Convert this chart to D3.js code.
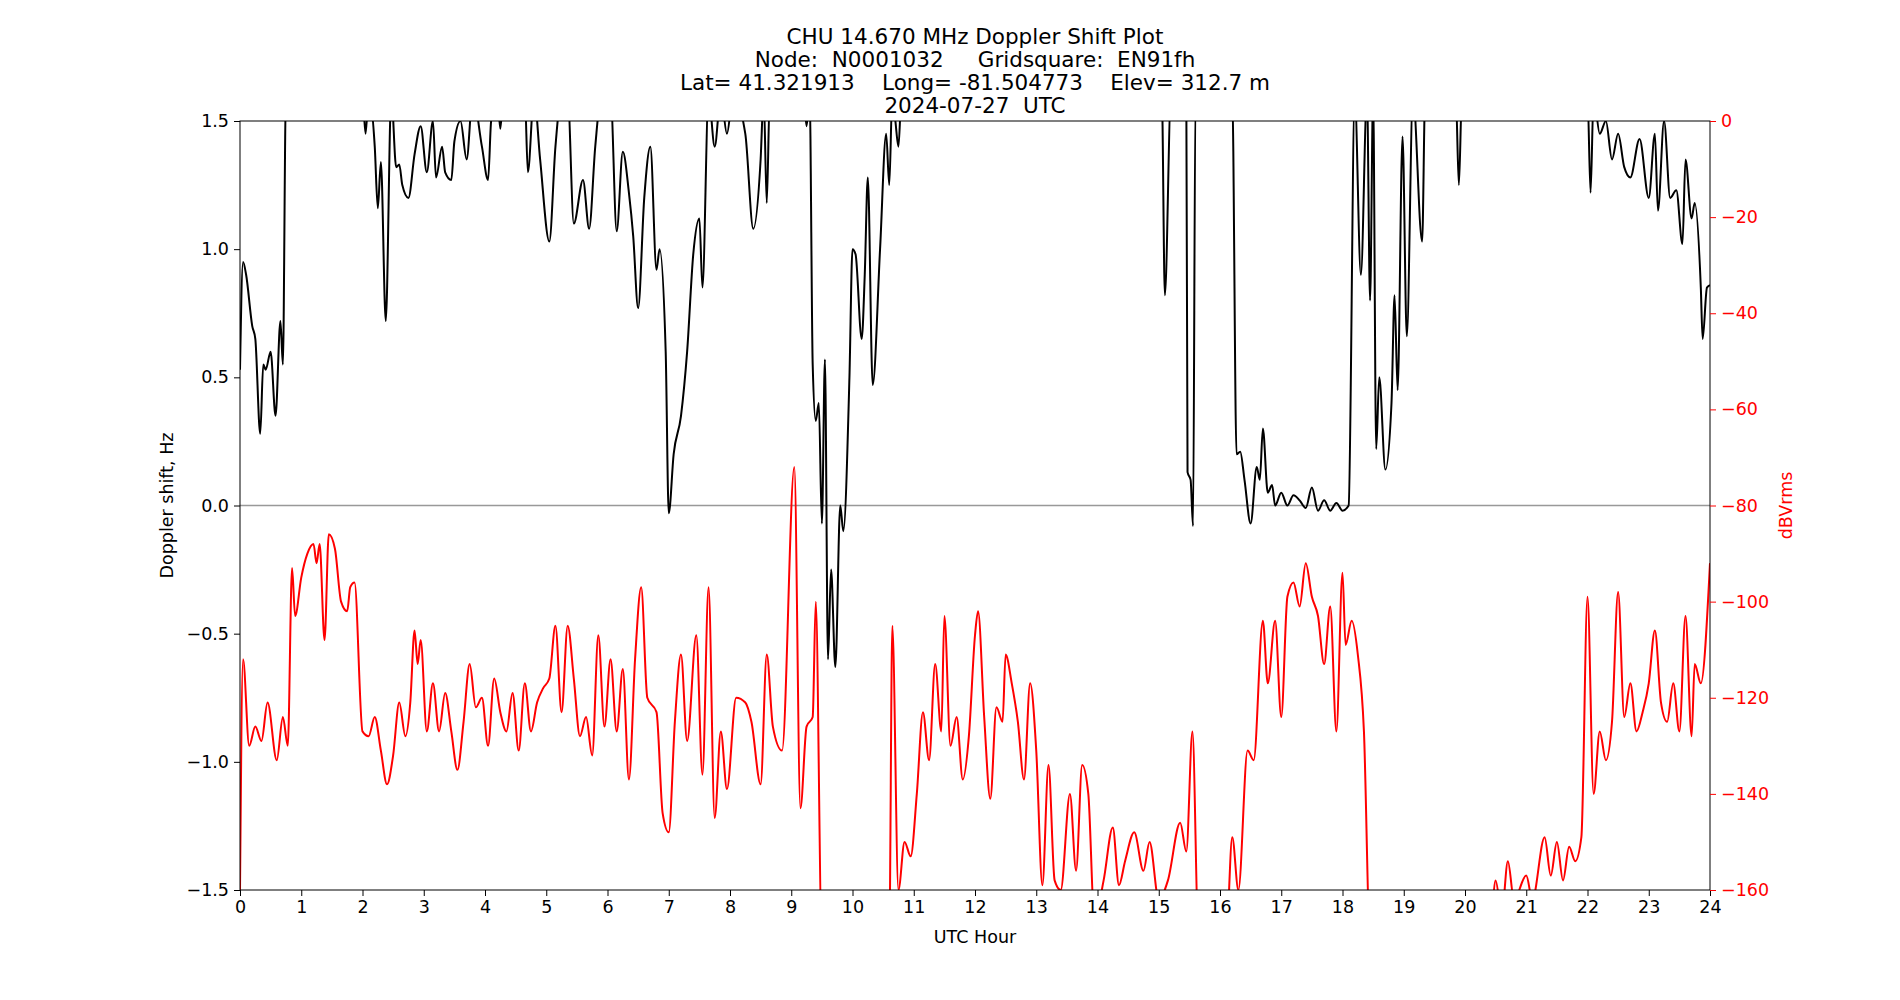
<!DOCTYPE html>
<html>
<head>
<meta charset="utf-8">
<script src="https://cdn.jsdelivr.net/npm/d3@7"></script>
<style>
  body { margin: 0; background: #fff; }
  text { font-family: "DejaVu Sans", sans-serif; white-space: pre; }
</style>
</head>
<body>
<div id="chart"></div>
<script>
const width = 1900,
  height = 1000;
const margin = { left: 240, right: 190, top: 121, bottom: 110 };

const titleLines = [
  "CHU 14.670 MHz Doppler Shift Plot",
  "Node:  N0001032     Gridsquare:  EN91fh",
  "Lat= 41.321913    Long= -81.504773    Elev= 312.7 m",
  "2024-07-27  UTC",
];

const xTicks = d3.range(0, 25);
const dopplerTicks = [-1.5, -1.0, -0.5, 0.0, 0.5, 1.0, 1.5];
const powerTicks = [-160, -140, -120, -100, -80, -60, -40, -20, 0];

// doppler shift [hour, Hz]
const doppler = [
  [0,0.53],[0.05,0.95],[0.1,0.9],[0.2,0.7],[0.25,0.65],[0.33,0.28],[0.38,0.55],[0.42,0.53],[0.5,0.6],
  [0.58,0.35],[0.66,0.72],[0.7,0.55],[0.75,1.6],[2.0,1.6],[2.05,1.45],[2.1,1.6],[2.2,1.4],[2.25,1.16],
  [2.3,1.34],[2.38,0.72],[2.47,1.6],[2.55,1.32],[2.6,1.33],[2.65,1.25],[2.75,1.2],[2.85,1.37],[2.95,1.48],
  [3.05,1.3],[3.15,1.5],[3.2,1.28],[3.3,1.4],[3.35,1.3],[3.45,1.27],[3.5,1.42],[3.6,1.5],[3.7,1.35],
  [3.8,1.6],[3.95,1.4],[4.05,1.27],[4.1,1.5],[4.2,1.6],[4.25,1.47],[4.3,1.6],[4.65,1.6],[4.7,1.3],
  [4.8,1.6],[4.9,1.35],[5.05,1.03],[5.15,1.4],[5.25,1.6],[5.35,1.6],[5.45,1.1],[5.6,1.27],[5.7,1.08],
  [5.8,1.4],[5.9,1.6],[6.05,1.6],[6.15,1.07],[6.25,1.38],[6.35,1.22],[6.42,1.05],[6.5,0.77],[6.6,1.2],
  [6.7,1.4],[6.8,0.92],[6.85,1.0],[6.95,0.6],[7.0,-0.03],[7.08,0.2],[7.2,0.35],[7.3,0.6],[7.4,0.98],
  [7.5,1.12],[7.55,0.85],[7.65,1.6],[7.75,1.4],[7.85,1.6],[7.95,1.45],[8.05,1.6],[8.25,1.45],[8.38,1.08],
  [8.5,1.35],[8.55,1.6],[8.6,1.18],[8.65,1.6],[9.2,1.6],[9.25,1.48],[9.3,1.6],[9.35,0.55],[9.4,0.33],
  [9.45,0.4],[9.5,-0.07],[9.55,0.57],[9.6,-0.6],[9.65,-0.25],[9.72,-0.63],[9.8,0.0],[9.85,-0.1],
  [9.95,0.5],[10.0,1.0],[10.05,0.98],[10.15,0.65],[10.2,0.9],[10.25,1.28],[10.33,0.47],[10.45,1.0],
  [10.55,1.45],[10.6,1.25],[10.65,1.6],[10.7,1.5],[10.75,1.4],[10.8,1.6],[15.05,1.6],[15.1,0.82],
  [15.2,1.6],[15.45,1.6],[15.47,0.13],[15.52,0.1],[15.56,-0.08],[15.6,1.6],[16.2,1.6],[16.27,0.2],
  [16.33,0.21],[16.4,0.1],[16.5,-0.07],[16.6,0.15],[16.65,0.1],[16.7,0.3],[16.78,0.05],[16.85,0.08],
  [16.9,0.0],[17.0,0.05],[17.1,0.0],[17.2,0.04],[17.3,0.02],[17.4,-0.01],[17.5,0.07],[17.6,-0.02],
  [17.7,0.02],[17.8,-0.02],[17.9,0.01],[18.0,-0.02],[18.1,0.0],[18.2,1.6],[18.3,0.9],[18.4,1.6],
  [18.45,0.8],[18.5,1.6],[18.55,0.22],[18.6,0.5],[18.7,0.14],[18.8,0.4],[18.85,0.82],[18.9,0.45],
  [18.98,1.44],[19.05,0.66],[19.15,1.6],[19.3,1.03],[19.35,1.6],[19.85,1.6],[19.9,1.25],[19.95,1.6],
  [22.0,1.6],[22.05,1.22],[22.1,1.6],[22.2,1.45],[22.3,1.5],[22.4,1.35],[22.5,1.45],[22.6,1.32],
  [22.7,1.28],[22.85,1.43],[23.0,1.2],[23.1,1.45],[23.15,1.15],[23.25,1.5],[23.35,1.2],[23.45,1.23],
  [23.55,1.02],[23.6,1.35],[23.7,1.12],[23.75,1.18],[23.85,0.85],[23.88,0.65],[23.95,0.85],[24,0.86],
];

// signal level [hour, dBVrms]
const power = [
  [0,-160],[0.05,-112],[0.15,-130],[0.25,-126],[0.35,-129],[0.45,-121],[0.6,-133],[0.7,-124],[0.78,-130],
  [0.85,-93],[0.9,-103],[1.0,-95],[1.1,-90],[1.2,-88],[1.25,-92],[1.3,-88],[1.38,-108],[1.45,-86],
  [1.55,-89],[1.65,-100],[1.75,-102],[1.8,-97],[1.87,-96],[2.0,-127],[2.1,-128],[2.2,-124],[2.3,-131],
  [2.4,-138],[2.5,-132],[2.6,-121],[2.7,-128],[2.78,-121],[2.85,-106],[2.9,-113],[2.95,-108],[3.05,-127],
  [3.15,-117],[3.25,-127],[3.35,-119],[3.45,-127],[3.55,-135],[3.65,-125],[3.75,-113],[3.85,-122],
  [3.95,-120],[4.05,-130],[4.15,-116],[4.25,-123],[4.35,-127],[4.45,-119],[4.55,-131],[4.65,-117],
  [4.75,-127],[4.85,-121],[4.95,-118],[5.05,-116],[5.15,-105],[5.25,-123],[5.35,-105],[5.45,-116],
  [5.55,-128],[5.65,-124],[5.75,-132],[5.85,-107],[5.95,-126],[6.05,-112],[6.15,-127],[6.25,-114],
  [6.35,-137],[6.45,-112],[6.55,-97],[6.65,-120],[6.8,-123],[6.9,-144],[7.0,-148],[7.1,-125],[7.2,-111],
  [7.3,-129],[7.45,-107],[7.55,-136],[7.65,-97],[7.75,-145],[7.85,-127],[7.95,-139],[8.1,-120],
  [8.25,-121],[8.35,-125],[8.5,-138],[8.6,-111],[8.7,-126],[8.85,-131],[9.05,-72],[9.15,-143],
  [9.25,-126],[9.35,-124],[9.4,-100],[9.5,-170],[10.6,-170],[10.65,-105],[10.75,-160],[10.85,-150],
  [10.95,-153],[11.05,-140],[11.15,-123],[11.25,-133],[11.35,-113],[11.45,-127],[11.5,-103],[11.6,-130],
  [11.7,-124],[11.8,-137],[11.9,-128],[12.0,-107],[12.05,-102],[12.15,-124],[12.25,-141],[12.35,-122],
  [12.45,-125],[12.5,-111],[12.6,-117],[12.7,-125],[12.8,-137],[12.9,-117],[13.0,-131],[13.1,-159],
  [13.2,-134],[13.3,-158],[13.4,-160],[13.55,-140],[13.65,-156],[13.75,-134],[13.85,-140],[13.95,-166],
  [14.1,-158],[14.25,-147],[14.35,-159],[14.45,-154],[14.6,-148],[14.75,-156],[14.85,-150],[15.0,-162],
  [15.15,-158],[15.35,-146],[15.45,-152],[15.55,-127],[15.65,-170],[16.1,-170],[16.2,-149],[16.3,-160],
  [16.45,-131],[16.55,-133],[16.7,-104],[16.78,-117],[16.9,-104],[17.0,-124],[17.1,-99],[17.2,-96],
  [17.3,-101],[17.4,-92],[17.5,-99],[17.6,-103],[17.7,-113],[17.8,-101],[17.9,-127],[18.0,-94],
  [18.05,-109],[18.15,-104],[18.25,-111],[18.35,-127],[18.45,-170],[20.4,-170],[20.5,-158],[20.6,-165],
  [20.7,-154],[20.8,-162],[21.0,-157],[21.1,-162],[21.3,-149],[21.4,-157],[21.5,-150],[21.6,-158],
  [21.7,-151],[21.8,-154],[21.9,-149],[22.0,-99],[22.1,-140],[22.2,-127],[22.3,-133],[22.4,-125],
  [22.5,-98],[22.6,-124],[22.7,-117],[22.8,-127],[22.9,-123],[23.0,-117],[23.1,-106],[23.2,-121],
  [23.3,-125],[23.4,-117],[23.5,-127],[23.6,-103],[23.7,-128],[23.75,-113],[23.85,-117],[24.0,-92],
];

const svg = d3
  .select("#chart")
  .append("svg")
  .attr("width", width)
  .attr("height", height);

const x = d3.scaleLinear().domain([0, 24]).range([margin.left, width - margin.right]);
const y = d3.scaleLinear().domain([-1.5, 1.5]).range([height - margin.bottom, margin.top]);
const y2 = d3.scaleLinear().domain([-160, 0]).range([height - margin.bottom, margin.top]);

svg.append("clipPath").attr("id", "plotclip")
  .append("rect")
  .attr("x", margin.left).attr("y", margin.top)
  .attr("width", width - margin.left - margin.right)
  .attr("height", height - margin.top - margin.bottom);

// zero line
svg.append("line")
  .attr("x1", x(0)).attr("x2", x(24))
  .attr("y1", y(0)).attr("y2", y(0))
  .attr("stroke", "#999").attr("stroke-width", 1.5);

const plot = svg.append("g").attr("clip-path", "url(#plotclip)");

plot.append("path")
  .datum(power)
  .attr("fill", "none").attr("stroke", "red").attr("stroke-width", 2)
  .attr("d", d3.line().x(d => x(d[0])).y(d => y2(d[1])).curve(d3.curveMonotoneX));

plot.append("path")
  .datum(doppler)
  .attr("fill", "none").attr("stroke", "black").attr("stroke-width", 2)
  .attr("d", d3.line().x(d => x(d[0])).y(d => y(d[1])).curve(d3.curveMonotoneX));

// frame
svg.append("rect")
  .attr("x", margin.left).attr("y", margin.top)
  .attr("width", width - margin.left - margin.right)
  .attr("height", height - margin.top - margin.bottom)
  .attr("fill", "none").attr("stroke", "black").attr("stroke-width", 1);

const fs = "17.5px";

const gx = svg.append("g")
  .attr("transform", `translate(0,${height - margin.bottom})`)
  .call(d3.axisBottom(x).tickValues(xTicks).tickFormat(d3.format("d")).tickSize(6).tickPadding(5));
gx.select(".domain").remove();
gx.selectAll("text").style("font-size", fs).style("font-family", "DejaVu Sans");

const gy = svg.append("g")
  .attr("transform", `translate(${margin.left},0)`)
  .call(d3.axisLeft(y).tickValues(dopplerTicks).tickFormat(d => d3.format(".1f")(d).replace("-", "−")).tickSize(6).tickPadding(5));
gy.select(".domain").remove();
gy.selectAll("text").style("font-size", fs).style("font-family", "DejaVu Sans");

const gy2 = svg.append("g")
  .attr("transform", `translate(${width - margin.right},0)`)
  .call(d3.axisRight(y2).tickValues(powerTicks).tickFormat(d => String(d).replace("-", "−")).tickSize(6).tickPadding(5));
gy2.select(".domain").remove();
gy2.selectAll("line").attr("stroke", "red");
gy2.selectAll("text").attr("fill", "red").style("font-size", fs).style("font-family", "DejaVu Sans");

svg.append("text")
  .attr("x", (x(0) + x(24)) / 2).attr("y", 943)
  .attr("text-anchor", "middle").style("font-size", fs)
  .text("UTC Hour");

svg.append("text")
  .attr("transform", `translate(173,${(margin.top + height - margin.bottom) / 2}) rotate(-90)`)
  .attr("text-anchor", "middle").style("font-size", fs)
  .text("Doppler shift, Hz");

svg.append("text")
  .attr("transform", `translate(1792,${(margin.top + height - margin.bottom) / 2}) rotate(-90)`)
  .attr("text-anchor", "middle").attr("fill", "red").style("font-size", fs)
  .text("dBVrms");

svg.append("g")
  .selectAll("text")
  .data(titleLines)
  .join("text")
  .attr("x", (x(0) + x(24)) / 2)
  .attr("y", (d, i) => 44 + i * 23.1)
  .attr("text-anchor", "middle")
  .style("font-size", "21.5px")
  .text(d => d);
</script>
</body>
</html>
